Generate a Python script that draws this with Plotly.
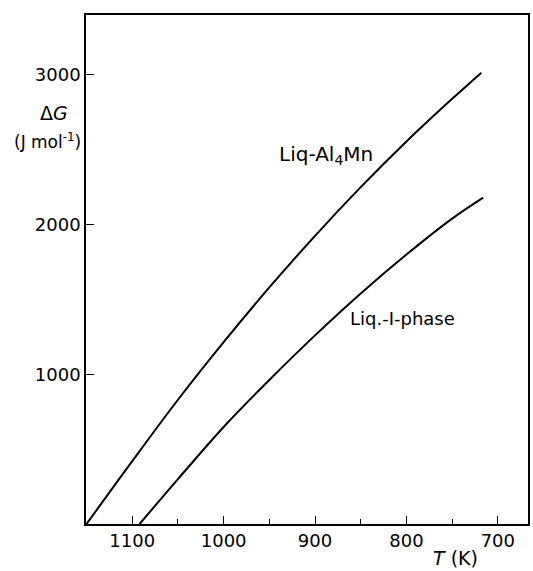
import plotly.graph_objects as go

# Liq -> Al4Mn driving force
T_al4mn = [1150, 1100, 1050, 1000, 950, 900, 850, 800, 750, 718]
G_al4mn = [0, 420, 830, 1215, 1580, 1925, 2250, 2555, 2840, 3015]

# Liq -> I-phase driving force
T_iphase = [1092, 1050, 1000, 950, 900, 850, 800, 750, 716]
G_iphase = [0, 300, 648, 962, 1260, 1540, 1800, 2040, 2180]

x_ticks = [1100, 1000, 900, 800, 700]
y_ticks = [1000, 2000, 3000]

FONT = "DejaVu Sans"

fig = go.Figure()
for T, G in [(T_al4mn, G_al4mn), (T_iphase, G_iphase)]:
    fig.add_trace(go.Scatter(x=T, y=G, mode="lines",
                             line=dict(color="black", width=2, shape="spline"),
                             showlegend=False, hoverinfo="skip"))

fig.add_annotation(x=888, y=2465, xref="x", yref="y",
                   text="Liq-Al<sub>4</sub>Mn", showarrow=False,
                   xanchor="center", yanchor="middle",
                   font=dict(family=FONT, size=20, color="black"))
fig.add_annotation(x=804, y=1376, xref="x", yref="y",
                   text="Liq.-I-phase", showarrow=False,
                   xanchor="center", yanchor="middle",
                   font=dict(family=FONT, size=18, color="black"))

fig.add_annotation(x=-0.072, y=0.808, xref="paper", yref="paper",
                   text="Δ<i>G</i>", showarrow=False,
                   xanchor="center", yanchor="middle",
                   font=dict(family=FONT, size=19, color="black"))
fig.add_annotation(x=-0.086, y=0.753, xref="paper", yref="paper",
                   text="(J mol<sup>-1</sup>)", showarrow=False,
                   xanchor="center", yanchor="middle",
                   font=dict(family=FONT, size=17, color="black"))
fig.add_annotation(x=0.836, y=-0.067, xref="paper", yref="paper",
                   text="<i>T</i> (K)", showarrow=False,
                   xanchor="center", yanchor="middle",
                   font=dict(family=FONT, size=19, color="black"))

fig.update_xaxes(range=[1150.6, 667], tickvals=x_ticks,
                 ticks="inside", ticklen=8, tickwidth=1.2, tickcolor="black",
                 minor=dict(dtick=50, tick0=700, ticks="inside", ticklen=5,
                            tickwidth=1, tickcolor="black"),
                 showline=True, linecolor="black", linewidth=1.5, mirror=True,
                 showgrid=False, zeroline=False,
                 tickfont=dict(family=FONT, size=18, color="black"))
fig.update_yaxes(range=[0, 3400], tickvals=y_ticks,
                 ticks="inside", ticklen=8, tickwidth=1.2, tickcolor="black",
                 showline=True, linecolor="black", linewidth=1.5, mirror=True,
                 showgrid=False, zeroline=False,
                 tickfont=dict(family=FONT, size=18, color="black"))

fig.update_layout(width=533, height=571,
                  margin=dict(l=86, r=3, t=15, b=47),
                  plot_bgcolor="white", paper_bgcolor="white")

fig.write_html("out.html",
               config={"displayModeBar": False},
               post_script="document.body.style.margin='0px';"
                           "document.body.style.overflow='hidden';")
